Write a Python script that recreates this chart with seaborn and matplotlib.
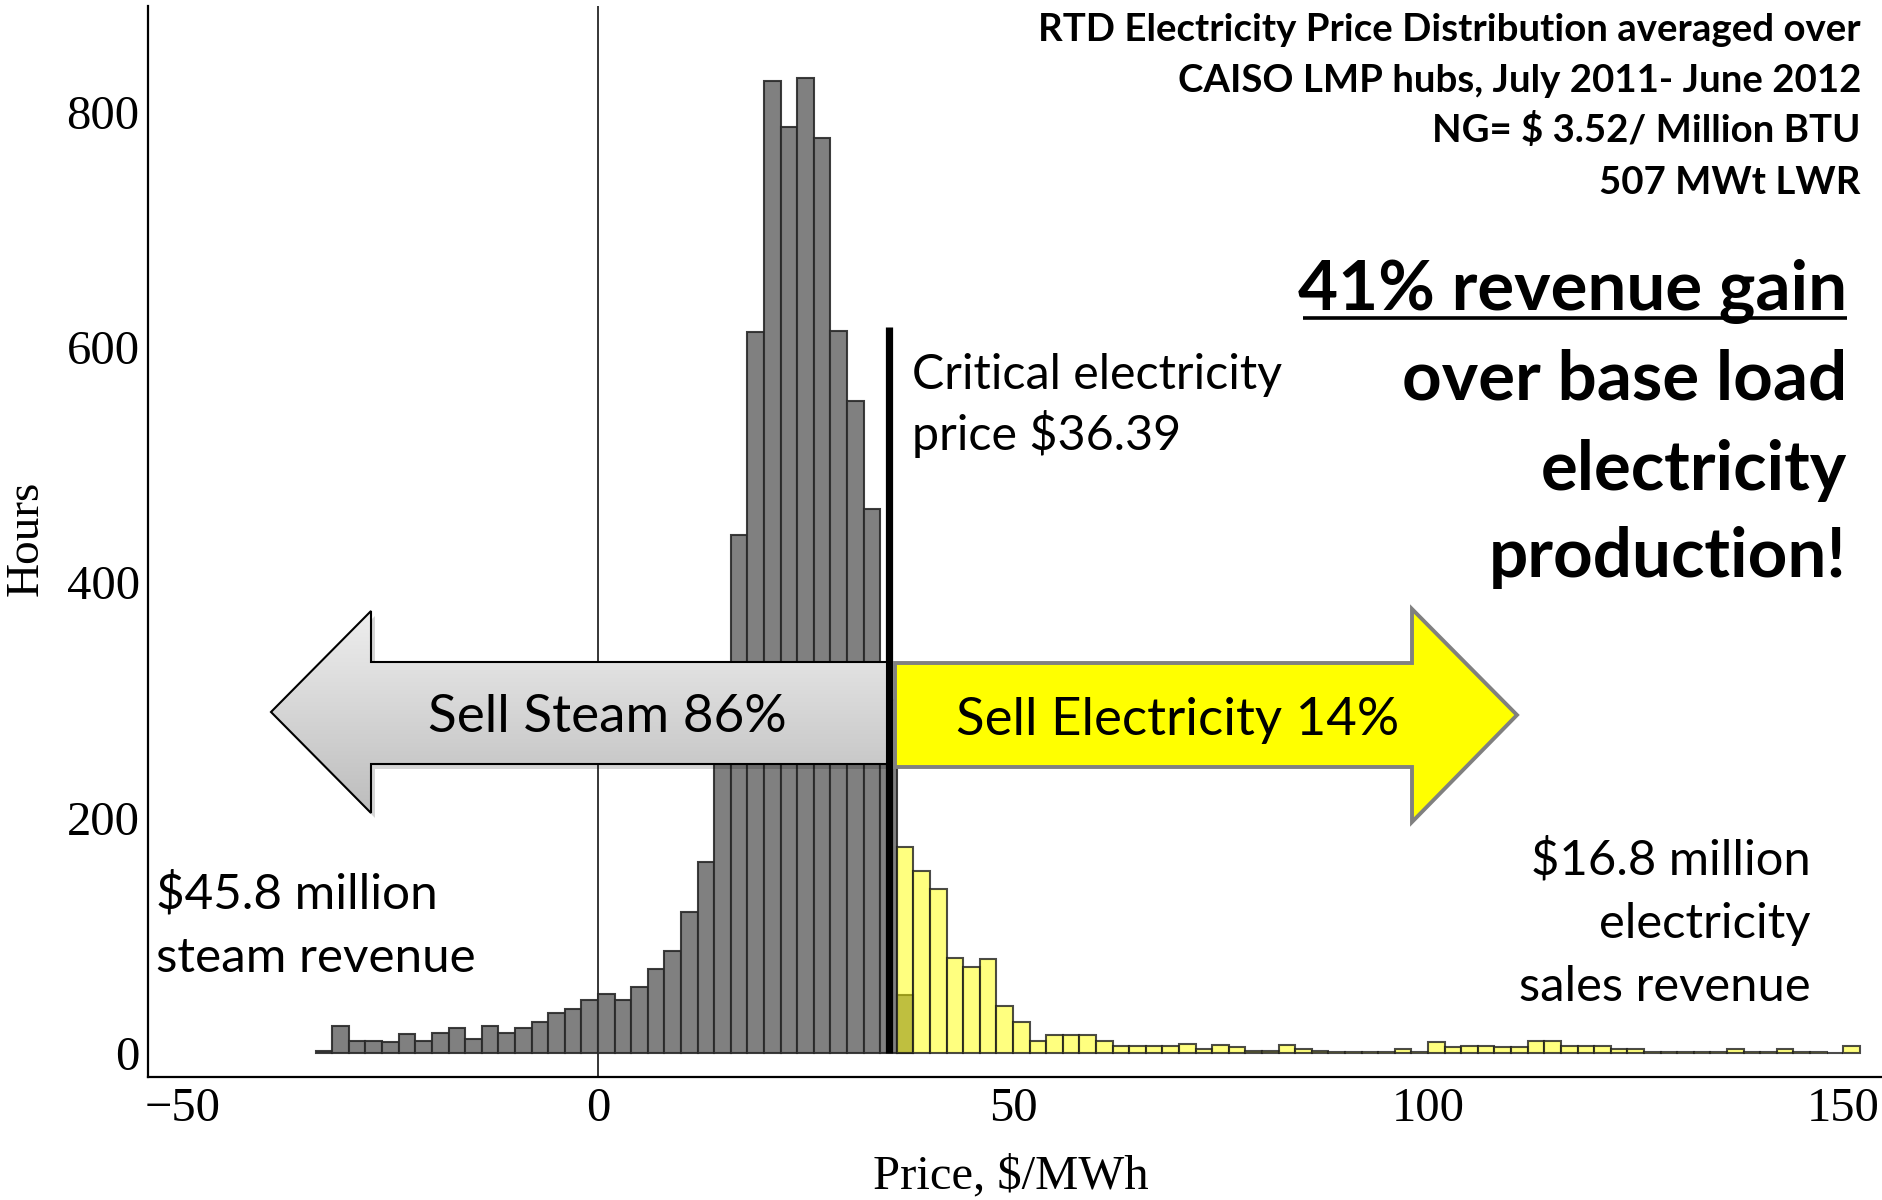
import numpy as np
import pandas as pd
import matplotlib
matplotlib.use("Agg")
import matplotlib.pyplot as plt
from matplotlib.patches import Polygon
from matplotlib.ticker import MultipleLocator
import seaborn as sns

# ---------------- data ----------------
bin_width = 2
steam_first_edge = -34
steam_hours = [2, 23, 10, 10, 9, 16, 10, 17, 21, 12, 23, 17, 21, 26, 34, 37, 45,
               50, 45, 56, 71, 87, 120, 162, 285, 440, 613, 826, 787, 829, 778,
               614, 554, 462, 300, 49]
elec_first_edge = 36
elec_hours = [175, 155, 139, 81, 73, 80, 40, 26, 10, 15, 15, 15, 10, 6, 6, 6, 6,
              8, 3, 7, 5, 2, 2, 7, 3, 2, 1, 1, 1, 1, 3, 1, 9, 5, 6, 6, 5, 5, 10,
              10, 6, 6, 6, 3, 3, 1, 1, 1, 1, 1, 3, 1, 1, 3, 1, 1, 0, 6]
critical_price = 36.39
critical_marker_x = 35.1
critical_marker_top = 617
x_major_ticks = [-50, 0, 50, 100, 150]
y_major_ticks = [0, 200, 400, 600, 800]
x_minor_step = 10
y_minor_step = 50
x_range = (-54.2, 154.8)
y_range = (-20.4, 889.8)

title_lines = ["RTD Electricity Price Distribution averaged over",
               "CAISO LMP hubs, July 2011- June 2012",
               "NG= $ 3.52/ Million BTU",
               "507 MWt LWR"]
gain_lines = ["41% revenue gain", "over base load", "electricity", "production!"]
critical_lines = ["Critical electricity", "price $%.2f" % critical_price]
steam_lines = ["$45.8 million", "steam revenue"]
elec_lines = ["$16.8 million", "electricity", "sales revenue"]
steam_arrow_label = "Sell Steam 86%"
elec_arrow_label = "Sell Electricity 14%"
x_label = "Price, $/MWh"
y_label = "Hours"

# ---------------- figure ----------------
sns.set_theme(style="white")
plt.rcParams["font.family"] = ["Liberation Serif", "DejaVu Serif"]

W, H = 1883, 1200
fig = plt.figure(figsize=(W / 100, H / 100), dpi=100)
fig.patch.set_facecolor("white")

ax_left, ax_bottom, ax_top = 148, 1077, 6
ax = fig.add_axes([ax_left / W, 1 - ax_bottom / H, (W - ax_left) / W, (ax_bottom - ax_top) / H])
ax.set_facecolor("white")

steam_edges = [float(steam_first_edge + bin_width * i) for i in range(len(steam_hours) + 1)]
steam_df = pd.DataFrame({"price": [e + bin_width / 2 for e in steam_edges[:-1]], "hours": steam_hours})
elec_edges = [float(elec_first_edge + bin_width * i) for i in range(len(elec_hours) + 1)]
elec_df = pd.DataFrame({"price": [e + bin_width / 2 for e in elec_edges[:-1]], "hours": elec_hours})

ax.axvline(0, color="black", lw=1.1, zorder=0.5)
sns.histplot(data=steam_df, x="price", weights="hours", bins=steam_edges, ax=ax,
             color="#808080", alpha=1.0, edgecolor=(0.16, 0.16, 0.16, 0.9), linewidth=1.5, zorder=2)
sns.histplot(data=elec_df, x="price", weights="hours", bins=elec_edges, ax=ax,
             color="#ffff00", alpha=0.5, edgecolor=(0.12, 0.12, 0.12, 0.8), linewidth=1.5, zorder=3)
ax.vlines(critical_marker_x, 0, critical_marker_top, color="black", lw=5.2, zorder=4)

ax.set_xlim(*x_range)
ax.set_ylim(*y_range)
ax.set_xticks(x_major_ticks)
ax.set_yticks(y_major_ticks)
ax.xaxis.set_minor_locator(MultipleLocator(x_minor_step))
ax.yaxis.set_minor_locator(MultipleLocator(y_minor_step))
ax.tick_params(which="major", direction="in", length=7, width=1.3, labelsize=35,
               colors="black", pad=6)
ax.tick_params(which="minor", direction="in", length=4, width=1.0, colors="black")
ax.tick_params(axis="x", which="major", pad=7)
for s in ["top", "right"]:
    ax.spines[s].set_visible(False)
for s in ["left", "bottom"]:
    ax.spines[s].set_color("black")
    ax.spines[s].set_linewidth(1.6)
ax.grid(False)
ax.set_xlabel(x_label, fontsize=35, color="black")
ax.set_ylabel(y_label, fontsize=34, color="black")
ax.xaxis.set_label_coords((1011 - ax_left) / (W - ax_left), -(1154 - ax_bottom) / (ax_bottom - ax_top))
ax.yaxis.set_label_coords((48 - ax_left) / (W - ax_left), (ax_bottom - 538) / (ax_bottom - ax_top))

# ---------------- overlay (pixel coordinates) ----------------
ov = fig.add_axes([0, 0, 1, 1], zorder=10)
ov.patch.set_alpha(0)
ov.axis("off")

# left (steam) arrow with gradient
left_pts = [(271, 712), (371, 611), (371, 662), (887, 662), (887, 764), (371, 764), (371, 813)]
shadow = Polygon([(x + 4, y + 5) for x, y in left_pts], closed=True,
                 facecolor=(0, 0, 0, 0.16), edgecolor="none", zorder=1)
ov.add_patch(shadow)
g = np.linspace(0, 1, 256)[:, None, None]
top_c = np.array([0.935, 0.935, 0.935])
bot_c = np.array([0.74, 0.74, 0.74])
img = top_c + (bot_c - top_c) * g
im = ov.imshow(img, extent=(271, 887, 813, 611), origin="upper", aspect="auto",
               interpolation="bilinear", zorder=2)
left_poly = Polygon(left_pts, closed=True, facecolor="none", edgecolor="black",
                    lw=1.5, joinstyle="miter", zorder=3)
ov.add_patch(left_poly)
im.set_clip_path(left_poly)

# right (electricity) arrow
right_pts = [(895, 663), (1412, 663), (1412, 609), (1517, 715), (1412, 822), (1412, 767), (895, 767)]
ov.add_patch(Polygon(right_pts, closed=True, facecolor="#ffff00", edgecolor="#808080",
                     lw=2.8, joinstyle="miter", zorder=3))

ov.set_xlim(0, W)
ov.set_ylim(H, 0)

renderer = fig.canvas.get_renderer()


def block(lines, x, baselines, ha, targets, weight="normal"):
    texts = [ov.text(x, y, s, ha=ha, va="baseline", fontsize=30, fontweight=weight,
                     family=["Lato", "DejaVu Sans"], color="black", parse_math=False, zorder=5)
             for s, y in zip(lines, baselines)]
    widths = [t.get_window_extent(renderer).width for t in texts]
    fs = 30 * sum(targets) / sum(widths)
    for t in texts:
        t.set_fontsize(fs)
    return texts


block(title_lines, 1861, [41, 92, 142, 194], "right", [840, 675, 426, 251], weight="bold")
block(gain_lines, 1847, [310, 400, 490, 577], "right", [544, 448, 304, 361], weight="bold")
ov.plot([1303, 1847], [318, 318], color="black", lw=2.6, solid_capstyle="butt", zorder=5)
block(critical_lines, 912, [389, 450], "left", [372, 267])
block([steam_arrow_label], 607, [732], "center", [358])
block([elec_arrow_label], 1178, [735], "center", [442])
block(steam_lines, 156, [909, 972], "left", [280, 321])
block(elec_lines, 1811, [874, 938, 1001], "right", [280, 210, 294])

fig.savefig("out.png", dpi=100, facecolor="white")
